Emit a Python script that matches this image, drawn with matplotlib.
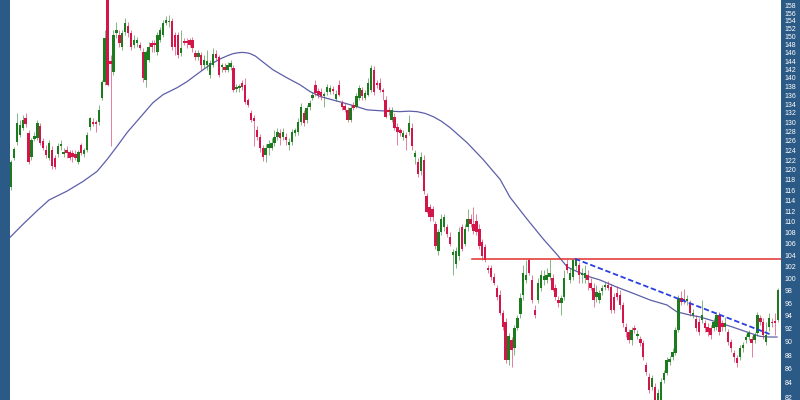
import numpy as np
import matplotlib.pyplot as plt
from matplotlib.patches import Rectangle
from matplotlib.ticker import FixedLocator, FuncFormatter, NullLocator

# daily candles (price units)
opens = [
    # part 1
    116.7, 122.5, 125.8, 127.3, 128.8, 131.0, 127.7, 122.7, 126.4, 126.6,
    129.2, 126.0, 124.1, 122.5, 124.1, 122.5, 123.3, 124.9, 123.3, 124.1,
    123.7, 123.5, 123.3, 121.5, 125.2, 123.3, 124.1, 129.0, 130.1, 130.1,
    130.1, 135.4, 139.1, 161.0, 144.0, 141.4, 151.0, 150.5, 147.5, 151.2,
    152.8, 151.0, 148.0, 148.5, 147.8, 146.3, 139.5, 144.3, 148.5, 148.5,
    146.3, 149.2, 150.5, 153.5, 153.7, 153.9, 150.5, 150.5, 146.0, 149.0,
    149.0, 149.2, 149.2, 146.0, 145.0, 145.5,
    # part 2
    143.1, 143.1, 140.7, 143.1, 145.8, 145.0, 142.5, 142.5, 141.9, 142.5,
    142.4, 137.5, 137.7, 138.8, 138.4, 134.9, 131.9, 130.9, 128.3, 126.9,
    124.5, 123.1, 124.5, 124.5, 125.6, 126.9, 127.7, 126.9, 126.9, 125.2,
    125.8, 127.7, 127.9, 130.1, 132.0, 130.5, 133.4, 135.4, 138.4, 137.0,
    136.8, 135.7, 136.8, 136.8, 137.5, 135.2, 138.4, 134.3, 133.6, 132.7,
    130.5, 133.8, 133.4, 135.4, 137.2, 135.4, 136.1, 137.2, 141.9, 138.9,
    138.9, 137.2, 134.9, 132.7, 130.5, 131.1, 129.0, 128.3,
    # part 3
    126.9, 127.3, 127.9, 128.8, 122.7, 121.5, 119.7, 122.1, 114.8, 112.7,
    112.3, 109.6, 104.8, 108.2, 109.1, 109.1, 107.3, 104.0, 102.5, 103.9,
    109.1, 106.0, 109.1, 110.5, 109.6, 110.1, 108.7, 106.4, 105.5, 101.8,
    101.8, 100.3, 98.5, 97.3, 94.5, 93.0, 87.3, 90.25, 89.05, 92.1,
    94.3, 97.3, 99.8, 103.2, 99.8, 94.9, 96.5, 98.5, 99.8, 99.8,
    100.3, 100.1, 98.5, 96.5, 96.0, 97.0, 102.5, 99.8, 100.3, 102.1,
    102.3, 100.6, 100.1, 100.6, 99.3, 98.5, 97.0,
    # part 4
    96.5, 97.9, 98.6, 99.0, 98.6, 97.0, 97.6, 97.3, 95.7, 92.2,
    91.5, 90.25, 92.1, 90.9, 90.4, 89.8, 86.55, 84.8, 83.4, 83.4,
    81.2, 81.6, 84.4, 85.4, 87.0, 87.7, 88.3, 91.8, 96.8, 96.6,
    96.4, 96.0, 94.1, 93.5, 93.0, 93.3, 92.85, 92.2, 92.1, 92.1,
    92.2, 94.1, 92.85, 92.2, 91.5, 89.95, 88.3, 87.6, 87.7, 89.05,
    90.25, 90.7, 90.4, 90.25, 91.3, 93.6, 93.0, 89.95, 92.2, 93.0,
    93.1, 93.3,
]
highs = [
    122.1, 124.7, 132.1, 130.5, 131.6, 132.1, 128.3, 126.6, 127.9, 130.5,
    129.9, 126.6, 125.2, 126.2, 124.8, 123.1, 125.6, 126.2, 124.5, 125.0,
    124.1, 124.1, 124.1, 124.1, 125.6, 124.5, 127.9, 131.2, 131.0, 130.5,
    133.8, 139.5, 151.7, 162.0, 145.5, 151.7, 153.7, 151.7, 151.7, 154.8,
    153.7, 151.7, 150.5, 150.0, 148.7, 147.3, 146.8, 148.7, 149.2, 149.2,
    151.2, 152.5, 154.3, 155.3, 155.5, 154.8, 151.2, 151.2, 151.7, 149.7,
    149.7, 149.7, 150.0, 146.8, 146.8, 146.3,
    145.5, 146.8, 144.3, 147.3, 146.8, 145.5, 143.6, 143.6, 143.8, 144.3,
    143.1, 138.6, 138.6, 139.5, 140.0, 135.4, 132.7, 131.6, 129.2, 127.5,
    125.2, 125.4, 126.2, 126.6, 128.3, 128.8, 128.5, 128.8, 127.7, 126.6,
    128.5, 128.8, 131.0, 134.3, 132.7, 133.8, 134.9, 136.8, 139.5, 137.7,
    137.7, 136.8, 138.6, 138.4, 138.1, 137.2, 139.5, 134.9, 134.3, 133.4,
    133.8, 134.5, 136.6, 138.4, 137.9, 137.2, 140.0, 143.1, 142.8, 139.5,
    140.0, 137.7, 135.9, 133.4, 133.4, 132.1, 129.9, 128.8,
    128.3, 127.9, 131.6, 129.9, 124.1, 122.5, 123.7, 123.1, 115.4, 113.3,
    112.9, 110.1, 108.7, 111.4, 111.4, 109.6, 108.2, 105.1, 105.5, 109.1,
    109.6, 109.6, 112.3, 111.4, 112.7, 111.4, 109.6, 106.9, 106.0, 102.3,
    102.3, 101.0, 99.0, 98.1, 94.9, 93.6, 91.3, 90.7, 92.5, 94.1,
    97.6, 102.3, 103.2, 103.5, 100.6, 95.7, 100.1, 101.5, 101.5, 101.8,
    103.3, 100.8, 99.2, 97.2, 97.3, 101.5, 103.3, 101.8, 103.4, 103.5,
    102.8, 101.8, 102.3, 101.5, 100.1, 99.3, 99.0,
    98.1, 99.0, 99.5, 99.6, 99.2, 97.6, 98.8, 98.1, 96.2, 92.8,
    92.0, 92.2, 92.5, 91.8, 90.9, 90.3, 87.0, 85.4, 85.1, 84.0,
    83.2, 84.7, 85.8, 87.7, 87.9, 89.0, 92.2, 97.3, 98.0, 98.3,
    97.3, 96.5, 95.1, 94.1, 93.6, 96.5, 93.3, 92.8, 92.5, 93.6,
    94.6, 94.6, 93.3, 93.8, 92.0, 90.4, 88.8, 88.0, 89.5, 90.0,
    91.2, 91.8, 90.9, 91.5, 94.6, 94.1, 93.6, 93.0, 94.4, 93.6,
    94.4, 98.5,
]
lows = [
    116.1, 122.1, 125.2, 126.9, 128.3, 129.0, 121.1, 122.1, 126.0, 126.2,
    125.2, 124.1, 122.5, 122.1, 120.1, 120.1, 122.7, 124.1, 122.7, 122.5,
    122.1, 121.5, 122.1, 121.1, 123.1, 122.7, 123.7, 128.3, 129.2, 127.9,
    129.4, 134.9, 138.4, 138.0, 124.8, 140.7, 149.7, 147.5, 146.8, 150.5,
    150.0, 146.8, 147.3, 147.5, 146.8, 139.1, 137.9, 143.8, 146.3, 146.3,
    145.5, 148.7, 150.0, 153.0, 152.5, 146.8, 145.5, 144.8, 145.3, 148.0,
    147.3, 147.5, 146.3, 144.3, 144.3, 141.9,
    142.4, 141.9, 140.0, 142.6, 144.3, 140.3, 141.4, 141.4, 141.4, 141.9,
    136.8, 136.8, 136.8, 137.2, 134.0, 133.4, 130.1, 124.8, 126.2, 123.7,
    121.7, 121.5, 123.1, 124.1, 125.0, 126.2, 125.2, 126.2, 125.2, 124.1,
    125.2, 127.1, 127.3, 129.4, 129.2, 129.9, 132.7, 134.9, 135.9, 135.4,
    134.9, 133.4, 136.1, 136.3, 136.3, 134.7, 135.7, 132.7, 132.3, 130.1,
    130.1, 132.7, 133.2, 134.9, 134.9, 134.9, 135.7, 136.8, 136.1, 137.7,
    136.8, 134.9, 130.8, 131.6, 130.1, 128.3, 125.2, 127.1,
    126.2, 124.1, 127.3, 124.1, 121.1, 118.5, 118.9, 115.2, 111.6, 110.1,
    110.1, 105.1, 104.1, 107.6, 108.3, 107.3, 105.7, 100.6, 101.8, 103.2,
    104.8, 105.7, 108.3, 109.1, 107.8, 107.6, 105.1, 103.2, 102.8, 101.0,
    99.8, 98.9, 96.5, 94.1, 91.8, 86.85, 86.55, 86.3, 88.0, 91.8,
    93.6, 96.5, 99.3, 100.6, 96.0, 93.6, 96.0, 97.9, 99.0, 99.3,
    99.8, 97.9, 96.5, 95.4, 94.1, 96.5, 101.0, 99.3, 99.8, 101.5,
    99.3, 99.3, 99.3, 98.1, 98.1, 95.4, 96.2,
    96.0, 97.3, 98.1, 98.1, 94.4, 94.4, 96.5, 95.1, 92.3, 90.7,
    89.8, 89.5, 91.3, 90.4, 89.3, 87.3, 85.1, 82.6, 83.0, 80.6,
    80.4, 81.2, 84.0, 85.1, 86.5, 87.3, 88.0, 91.5, 95.7, 95.9,
    95.7, 93.9, 93.6, 91.6, 91.0, 92.8, 91.5, 90.9, 90.4, 91.6,
    91.8, 91.0, 91.6, 91.6, 89.5, 88.5, 87.0, 86.3, 87.3, 88.5,
    89.8, 90.3, 87.7, 89.8, 90.9, 92.5, 90.4, 89.5, 91.6, 92.2,
    91.0, 93.0,
]
closes = [
    121.5, 124.3, 129.9, 129.4, 130.5, 129.6, 121.5, 126.2, 127.1, 129.9,
    125.6, 124.5, 123.1, 125.6, 120.7, 120.5, 124.8, 125.3, 123.7, 123.5,
    122.5, 122.7, 122.5, 123.7, 123.5, 124.1, 127.3, 130.8, 129.6, 129.6,
    132.7, 139.1, 149.7, 138.4, 143.4, 150.5, 151.7, 148.5, 151.0, 153.5,
    151.0, 147.5, 149.2, 149.2, 147.3, 140.0, 146.3, 147.5, 147.5, 148.0,
    150.5, 151.7, 153.5, 154.3, 154.1, 147.5, 147.5, 145.5, 147.3, 148.5,
    148.3, 148.0, 147.3, 145.0, 146.0, 143.1,
    144.3, 144.0, 143.6, 145.8, 144.7, 140.7, 143.1, 141.9, 143.1, 143.6,
    137.2, 137.9, 138.2, 137.9, 134.5, 133.8, 130.5, 130.3, 126.9, 124.5,
    122.7, 124.5, 125.4, 125.6, 126.9, 127.9, 126.6, 127.9, 126.2, 125.8,
    127.9, 128.3, 130.1, 133.4, 129.8, 133.1, 134.3, 136.1, 136.6, 136.1,
    135.7, 136.3, 137.9, 137.7, 137.0, 136.3, 136.1, 133.4, 132.7, 130.5,
    133.1, 133.1, 135.7, 137.7, 135.7, 136.6, 138.8, 142.4, 136.8, 138.4,
    137.2, 136.8, 131.2, 132.3, 132.7, 128.8, 127.9, 127.7,
    127.7, 126.6, 129.9, 124.8, 123.5, 119.1, 122.7, 115.8, 111.9, 110.9,
    110.9, 105.7, 108.2, 110.5, 110.9, 107.8, 106.0, 104.6, 104.8, 108.2,
    105.1, 108.7, 110.5, 109.6, 108.4, 108.2, 105.7, 103.9, 103.2, 101.5,
    100.3, 99.3, 97.0, 94.4, 92.2, 87.3, 90.8, 88.75, 92.1, 93.6,
    96.8, 101.0, 100.6, 101.0, 96.5, 94.1, 99.3, 100.6, 100.4, 100.6,
    101.0, 98.1, 97.0, 96.0, 96.8, 100.1, 101.5, 101.0, 103.2, 103.4,
    100.6, 101.0, 101.0, 99.8, 98.5, 96.5, 97.8,
    97.6, 98.5, 99.0, 98.5, 94.9, 94.9, 97.0, 95.7, 92.8, 91.5,
    90.25, 91.8, 91.8, 91.2, 89.8, 87.7, 85.5, 83.0, 84.7, 81.2,
    82.6, 84.1, 85.4, 87.3, 87.4, 88.45, 91.8, 96.8, 96.2, 96.4,
    96.6, 94.4, 94.4, 92.1, 91.5, 94.1, 92.1, 91.5, 91.0, 93.0,
    94.1, 91.5, 92.2, 92.85, 89.95, 89.05, 87.7, 86.85, 89.05, 89.5,
    90.7, 91.3, 89.8, 91.0, 94.1, 93.0, 91.0, 91.0, 93.6, 92.85,
    92.85, 98.1,
]

# moving average (bar index, price)
ma_idx = [-0.3, 4.0, 9.0, 13.0, 19.1, 24.6, 29.4, 32.8, 36.2, 39.6,
          44.1, 48.5, 51.9, 56.7, 60.1, 64.6, 68.0, 71.4, 74.0, 75.9,
          77.5, 78.9, 80.5, 81.7, 83.5, 85.1, 89.5, 94.3, 98.7, 102.2,
          105.6, 110.0, 113.4, 118.2, 121.6, 126.1, 132.9, 136.0, 138.7, 141.5,
          144.2, 147.0, 150.0, 155.8, 161.3, 167.1, 170.5, 176.3, 181.8, 186.6,
          190.0, 193.4, 197.8, 201.2, 207.0, 212.5, 218.3, 224.1, 227.5, 232.0,
          235.4, 241.2, 246.7, 252.5, 255.9, 259.3, 261.7]
ma_val = [107.2, 109.5, 112.1, 114.1, 115.8, 117.7, 119.7, 122.1, 124.8, 127.7,
          131.0, 134.3, 136.1, 137.7, 139.1, 141.4, 143.1, 144.5, 145.3, 145.8,
          146.0, 146.1, 146.0, 145.8, 145.2, 144.3, 141.9, 140.0, 138.4, 136.8,
          135.7, 134.9, 134.3, 133.4, 132.7, 132.5, 132.3, 132.4, 132.3, 131.9,
          131.2, 130.2, 128.8, 125.6, 122.1, 118.1, 114.6, 110.5, 106.9, 104.1,
          102.0, 101.2, 100.3, 99.8, 98.6, 97.6, 96.5, 95.7, 94.6, 94.1,
          93.8, 93.0, 92.2, 91.3, 90.8, 90.7, 90.7]

# drawn lines
resistance = 103.3
resistance_start = 157.5
trend_idx = [192.7, 260.0]
trend_val = [103.4, 91.0]

price_ticks = list(range(82, 160, 2))

o = np.array(opens)
h = np.array(highs)
l = np.array(lows)
c = np.array(closes)
idx = np.arange(len(c))

up_col = '#1c7a1f'
dn_col = '#d3164a'
band = '#2b5a86'

fig = plt.figure(figsize=(8, 4), dpi=100)
fig.patch.set_facecolor('white')
fig.add_artist(Rectangle((0, 0), 10 / 800, 1, transform=fig.transFigure,
                         color=band, zorder=-1))
fig.add_artist(Rectangle((781 / 800, 0), 19 / 800, 1, transform=fig.transFigure,
                         color=band, zorder=-1))

ax = fig.add_axes([10 / 800, 0, 771 / 800, 1])
ax.set_facecolor('white')
ax.set_yscale('log')
ax.set_ylim(81.62, 159.5)
ax.set_xlim(-0.34, 263.05)

cols = np.where(c >= o, up_col, dn_col)
ax.vlines(idx, l, h, colors=cols, linewidth=0.7, alpha=0.55, zorder=2)
body_lo = np.minimum(o, c)
body_h = np.maximum(np.abs(c - o), 0.2)
ax.bar(idx, body_h, bottom=body_lo, width=0.82, color=cols, linewidth=0, zorder=3)

ax.plot(ma_idx, ma_val, color='#5d5fa8', linewidth=0.9, zorder=1)
ax.plot([resistance_start, 263.05], [resistance, resistance], color='#e0302c',
        linewidth=1.1, zorder=4)
ax.plot(trend_idx, trend_val, color='#2b3fe0', linewidth=1.3, linestyle=(0, (3, 1.5)),
        zorder=4)

for s in ax.spines.values():
    s.set_visible(False)
ax.set_xticks([])
ax.yaxis.tick_right()
ax.yaxis.set_major_locator(FixedLocator(price_ticks))
ax.yaxis.set_minor_locator(NullLocator())
ax.yaxis.set_major_formatter(FuncFormatter(lambda v, p: f'{v:.0f}'))
ax.tick_params(axis='y', length=0, pad=2.5, labelsize=5, labelcolor='white')
for t in ax.get_yticklabels():
    t.set_fontfamily('Liberation Sans')

fig.savefig('out.png', dpi=100)
